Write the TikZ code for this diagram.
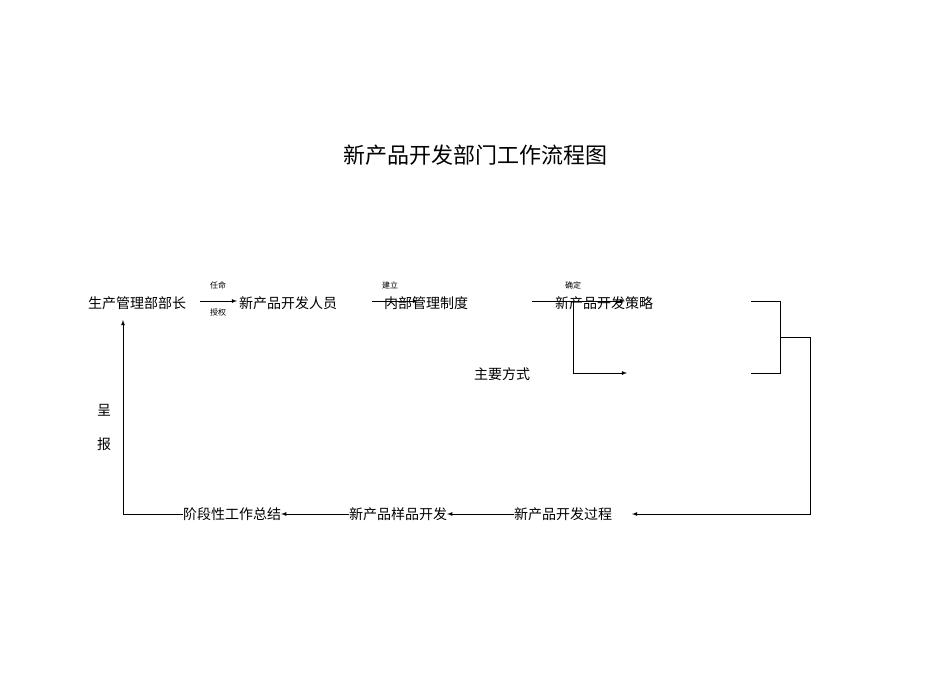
\documentclass[tikz,border=0pt]{standalone}
\usepackage{fontspec}
\newfontfamily\cjk{Noto Sans CJK SC}
\begin{document}
\begin{tikzpicture}[x=1pt,y=-1pt,
  lbl/.style={font=\cjk\fontsize{14}{16}\selectfont,inner sep=0pt},
  sml/.style={font=\cjk\fontsize{8}{9}\selectfont,inner sep=0pt},
  ln/.style={draw=black,line width=0.8pt},
  ar/.style={ln,-latex}]
\useasboundingbox (0,0) rectangle (950,672);
\node[font=\cjk\fontsize{22}{26}\selectfont,inner sep=0pt] (title) at (475,155) {新产品开发部门工作流程图};
\node[lbl] (a) at (137,303) {生产管理部部长};
\node[lbl] (b) at (288,303) {新产品开发人员};
\node[lbl] (c) at (426,303) {内部管理制度};
\node[lbl] (d) at (604,303) {新产品开发策略};
\node[lbl] (e) at (502,374) {主要方式};
\node[sml] (t1) at (218,285) {任命};
\node[sml] (t2) at (218,312) {授权};
\node[sml] (t3) at (390,285) {建立};
\node[sml] (t4) at (573,285) {确定};
\node[lbl] (f) at (563,514) {新产品开发过程};
\node[lbl] (g) at (398,514) {新产品样品开发};
\node[lbl] (h) at (232,514) {阶段性工作总结};
\node[lbl] (r1) at (104,410) {呈};
\node[lbl] (r2) at (104,444) {报};
\coordinate (c1s) at (372,301); \coordinate (c1e) at (418,301);
\coordinate (c2s) at (532,301); \coordinate (c2e) at (625,301);
\coordinate (m) at (573,301); \coordinate (me) at (627,373);
\coordinate (bt) at (751,301); \coordinate (bb) at (751,373);
\coordinate (bm) at (780,337); \coordinate (fe) at (632,514);
\coordinate (up) at (123,320);
\draw[ar] (200,301) -- (237,301);
\draw[ar] (c1s) -- (c1e);
\draw[ar] (c2s) -- (c2e);
\draw[ar] (m) |- (me);
\draw[ln] (bt) -- (780,301) -- (780,373) -- (bb);
\draw[ar] (bm) -- (810,337) |- (fe);
\draw[ar] (f.west) -- (g.east);
\draw[ar] (g.west) -- (h.east);
\draw[ar] (h.west) -| (up);
\end{tikzpicture}
\end{document}
